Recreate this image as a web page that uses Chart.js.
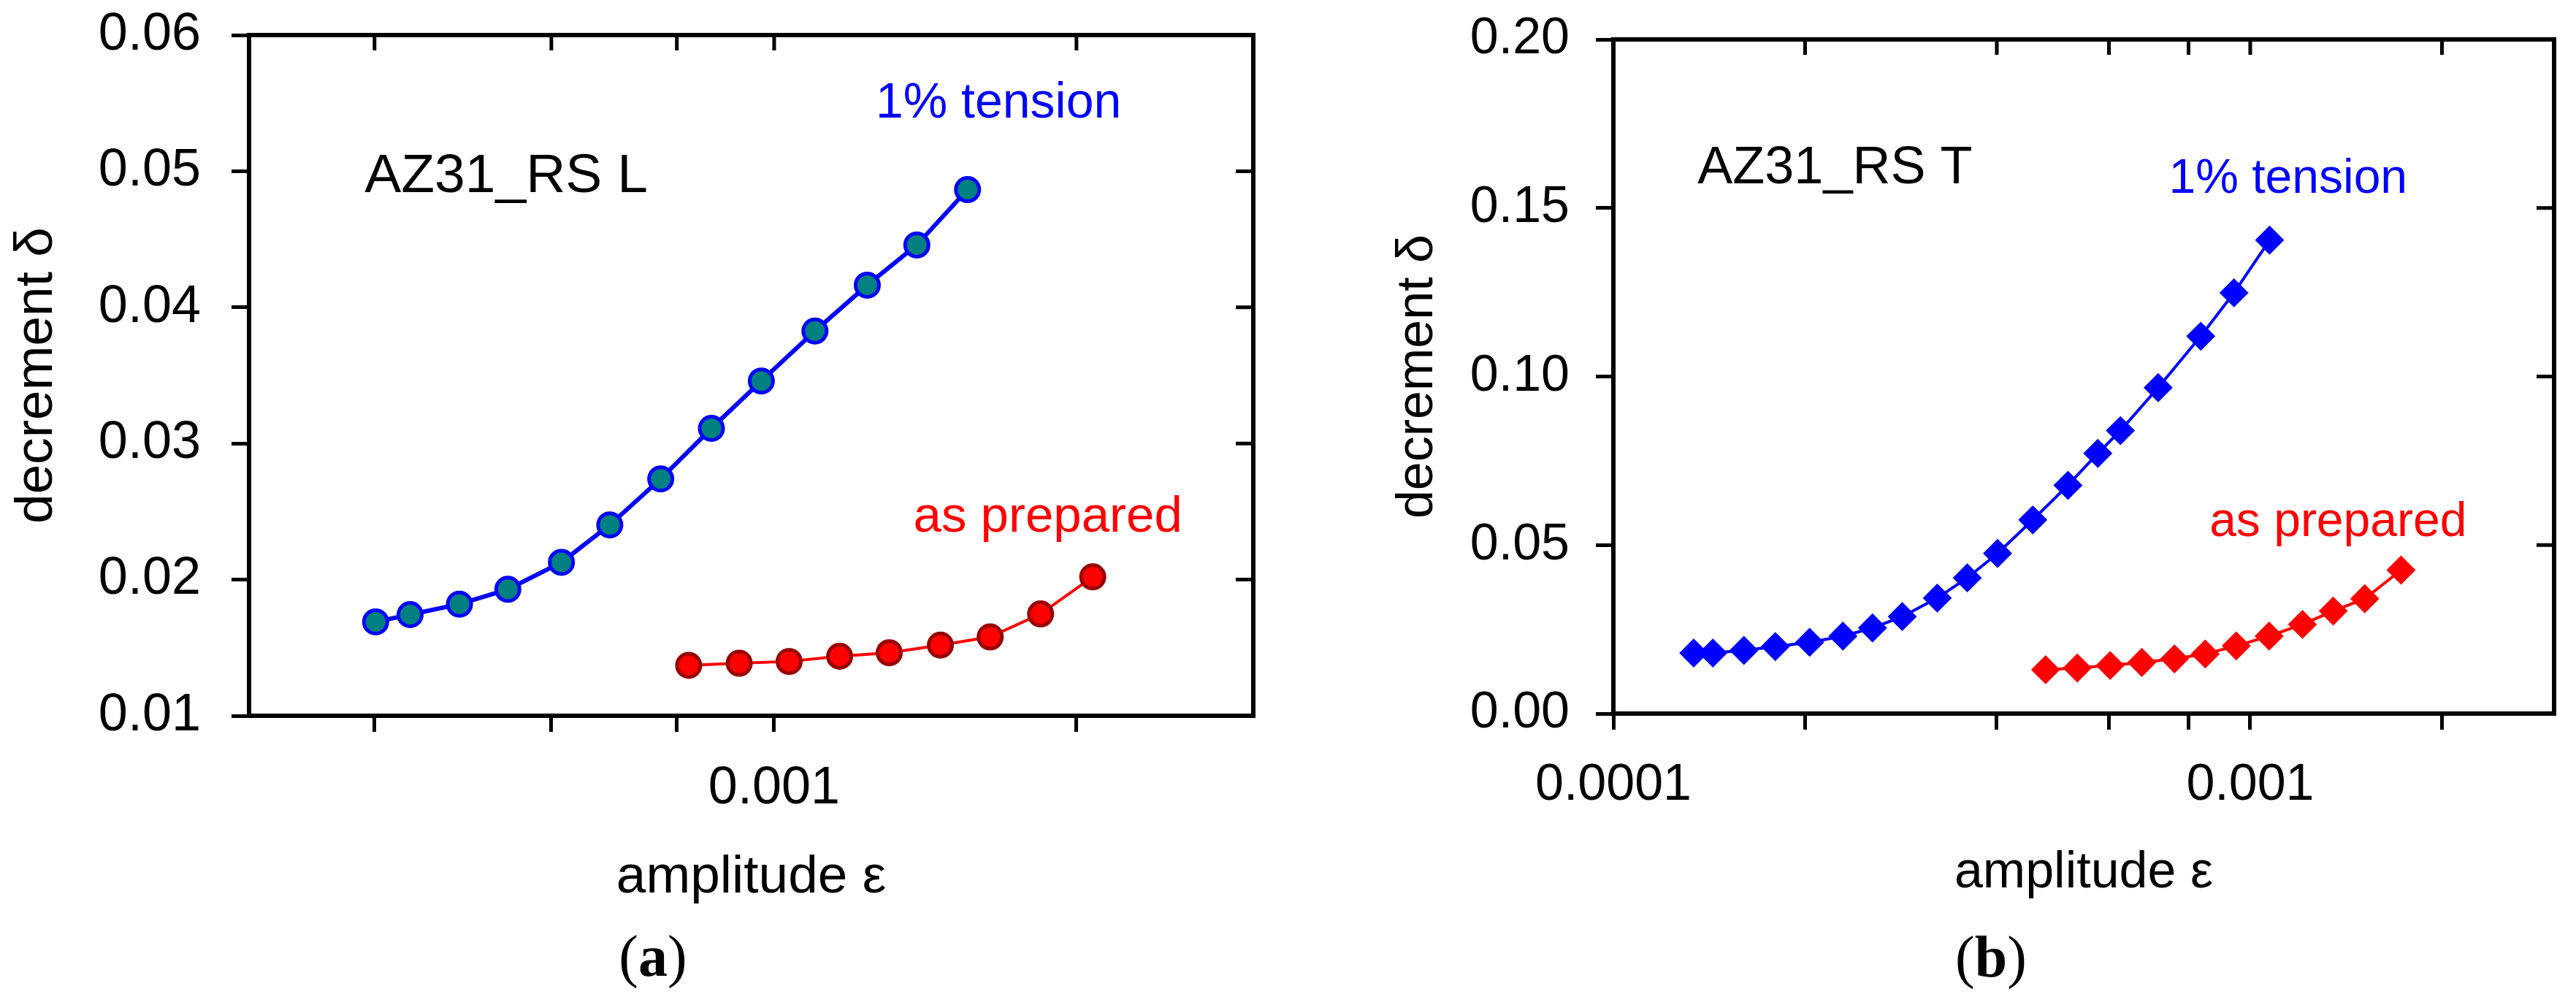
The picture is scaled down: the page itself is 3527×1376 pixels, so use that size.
<!DOCTYPE html>
<html>
<head>
<meta charset="utf-8">
<script src="https://cdn.jsdelivr.net/npm/chart.js@4.4.1/dist/chart.umd.min.js"></script>
<style>
  html, body { margin: 0; padding: 0; background: #fff; }
  #page { position: relative; width: 3527px; height: 1376px; overflow: hidden; background: #fff; }
  #page canvas { position: absolute; top: 0; }
  #chartA { left: 0; }
  #chartB { left: 1880px; }
  .caption { position: absolute; width: 200px; text-align: center; color: #000;
             font-family: 'Liberation Serif', 'Times New Roman', serif; font-size: 80px; line-height: 80px; }
</style>
</head>
<body>
<div id="page">
  <canvas id="chartA" width="1760" height="1376"></canvas>
  <canvas id="chartB" width="1647" height="1376"></canvas>
  <div class="caption" style="left:794px; top:1269px">(<b>a</b>)</div>
  <div class="caption" style="left:2626px; top:1270px">(<b>b</b>)</div>
</div>
<script>
// ---- data ----
const xTickValues = [0.0001, 0.0002, 0.0004, 0.0006, 0.0008, 0.001, 0.002];
const xLabelsA = ['0.001'];
const xLabelsB = ['0.0001', '0.001'];

// (a) AZ31_RS L
const ampA_tension = [0.000401, 0.000434, 0.000486, 0.000543, 0.000614, 0.000686, 0.000771,
                      0.000866, 0.000971, 0.001098, 0.001238, 0.001387, 0.001558];
const decA_tension = [0.0169, 0.01743, 0.0182, 0.01929, 0.02127, 0.02402, 0.0274,
                      0.03111, 0.03459, 0.03826, 0.04163, 0.04458, 0.04865];
const ampA_prepared = [0.000822, 0.000923, 0.001035, 0.001162, 0.001302, 0.001464, 0.001641, 0.001842, 0.002076];
const decA_prepared = [0.0137, 0.01386, 0.01399, 0.01437, 0.01463, 0.01519, 0.01579, 0.01748, 0.0202];

// (b) AZ31_RS T
const ampB_tension = [0.0001337, 0.0001433, 0.0001603, 0.0001796, 0.0002033, 0.0002293, 0.0002552,
                      0.0002842, 0.0003225, 0.0003595, 0.0004011, 0.0004556, 0.0005174, 0.0005763,
                      0.0006254, 0.0007168, 0.0008363, 0.000943, 0.0010725];
const decB_tension = [0.01796, 0.01796, 0.01874, 0.01988, 0.02114, 0.02298, 0.0254,
                      0.02878, 0.03427, 0.04026, 0.04751, 0.05746, 0.06772, 0.0772,
                      0.08395, 0.09669, 0.11196, 0.12482, 0.14046];
const ampB_prepared = [0.0004772, 0.0005351, 0.0006026, 0.0006757, 0.0007604, 0.0008498,
                       0.0009506, 0.0010708, 0.0012078, 0.0013498, 0.0015129, 0.0017251];
const decB_prepared = [0.01302, 0.01352, 0.01428, 0.01517, 0.01623, 0.01768,
                       0.02008, 0.02298, 0.02646, 0.03042, 0.03408, 0.04258];

const FONT = "'Liberation Sans', Arial, sans-serif";
Chart.defaults.font.family = FONT;
Chart.defaults.color = '#000';

const toPoints = (xs, ys) => xs.map((x, i) => ({ x: x, y: ys[i] }));

// closed frame (top/right) with inward mirror ticks
const frameTicks = {
  id: 'frameTicks',
  afterDraw(chart) {
    const { ctx, chartArea: a, scales: { x, y } } = chart;
    ctx.save();
    ctx.strokeStyle = '#000';
    ctx.lineWidth = 6;
    ctx.lineCap = 'square';
    ctx.lineJoin = 'miter';
    ctx.beginPath();
    ctx.moveTo(a.left, a.top);
    ctx.lineTo(a.right, a.top);
    ctx.lineTo(a.right, a.bottom);
    ctx.stroke();
    ctx.lineWidth = 5;
    ctx.lineCap = 'butt';
    ctx.beginPath();
    x.ticks.forEach(t => {
      const px = x.getPixelForValue(t.value);
      if (px - a.left < 4 || a.right - px < 4) return;
      ctx.moveTo(px, a.top);
      ctx.lineTo(px, a.top + 21);
    });
    y.ticks.forEach(t => {
      const py = y.getPixelForValue(t.value);
      if (py - a.top < 4 || a.bottom - py < 4) return;
      ctx.moveTo(a.right, py);
      ctx.lineTo(a.right - 24, py);
    });
    ctx.stroke();
    ctx.restore();
  }
};

function notesPlugin(items) {
  return {
    id: 'notes',
    afterDatasetsDraw(chart) {
      const { ctx, scales: { x, y } } = chart;
      ctx.save();
      ctx.textAlign = 'left';
      ctx.textBaseline = 'alphabetic';
      items.forEach(n => {
        ctx.font = n.size + 'px ' + FONT;
        ctx.fillStyle = n.color;
        ctx.fillText(n.text, x.getPixelForValue(n.x), y.getPixelForValue(n.y));
      });
      ctx.restore();
    }
  };
}

function makeChart(id, s) {
  const gridOpts = (len) => ({
    display: true, drawOnChartArea: false, drawTicks: true,
    tickLength: len, tickWidth: 5, tickColor: '#000', color: '#000', lineWidth: 5
  });
  return new Chart(document.getElementById(id), {
    type: 'scatter',
    data: { datasets: s.datasets },
    options: {
      responsive: false,
      animation: false,
      layout: { padding: s.padding },
      plugins: { legend: { display: false }, tooltip: { enabled: false } },
      scales: {
        x: {
          type: 'logarithmic',
          min: s.xMin,
          max: s.xMax,
          afterBuildTicks: sc => {
            sc.ticks = xTickValues
              .filter(v => v >= s.xMin * 0.999 && v <= s.xMax * 1.001)
              .map(v => ({ value: v }));
          },
          afterFit: sc => {
            sc.height = s.xHeight;
            sc.paddingLeft = 0;
            sc.paddingRight = 0;
          },
          border: { display: true, color: '#000', width: 6 },
          grid: gridOpts(22),
          ticks: {
            autoSkip: false, maxRotation: 0, padding: 35, color: '#000',
            font: { size: s.tickSize },
            callback: v => s.xLabels.includes(String(v)) ? String(v) : ''
          },
          title: {
            display: true, text: 'amplitude ε', color: '#000',
            font: { size: s.titleSize }, padding: { top: 0, bottom: s.xTitlePad }
          }
        },
        y: {
          min: s.yMin,
          max: s.yMax,
          afterFit: sc => {
            sc.width = s.yWidth;
            sc.paddingTop = 0;
            sc.paddingBottom = 0;
          },
          border: { display: true, color: '#000', width: 6 },
          grid: gridOpts(24),
          ticks: {
            stepSize: s.yStep, padding: s.yPad, color: '#000',
            font: { size: s.tickSize },
            callback: v => Number(v).toFixed(2)
          },
          title: {
            display: true, text: 'decrement δ', color: '#000',
            font: { size: s.titleSize }, padding: { top: s.yTitlePad, bottom: 0 }
          }
        }
      }
    },
    plugins: [frameTicks, notesPlugin(s.notes)]
  });
}

// (a)
makeChart('chartA', {
  padding: { left: 0, top: 48, right: 44, bottom: 0 },
  xMin: 0.0003, xMax: 0.003, xLabels: xLabelsA, xHeight: 396, xTitlePad: 130,
  yMin: 0.01, yMax: 0.06, yStep: 0.01, yWidth: 341, yPad: 42, yTitlePad: 7,
  tickSize: 72, titleSize: 73,
  datasets: [
    {
      data: toPoints(ampA_tension, decA_tension), showLine: true,
      borderColor: '#0000ff', borderWidth: 6, pointStyle: 'circle', pointRadius: 16,
      pointBackgroundColor: '#008080', pointBorderColor: '#0000ff', pointBorderWidth: 5
    },
    {
      data: toPoints(ampA_prepared, decA_prepared), showLine: true,
      borderColor: '#ff0000', borderWidth: 4, pointStyle: 'circle', pointRadius: 16,
      pointBackgroundColor: '#ff0000', pointBorderColor: '#990000', pointBorderWidth: 5
    }
  ],
  notes: [
    { text: 'AZ31_RS L', x: 0.000391, y: 0.04846, color: '#000', size: 75 },
    { text: '1% tension', x: 0.001262, y: 0.05393, color: '#0000ff', size: 68 },
    { text: 'as prepared', x: 0.001376, y: 0.0235, color: '#ff0000', size: 69 }
  ]
});

// (b)
makeChart('chartB', {
  padding: { left: 0, top: 54, right: 30, bottom: 0 },
  xMin: 0.0001, xMax: 0.003, xLabels: xLabelsB, xHeight: 399, xTitlePad: 138,
  yMin: 0, yMax: 0.2, yStep: 0.05, yWidth: 329, yPad: 36, yTitlePad: 20,
  tickSize: 70, titleSize: 70,
  datasets: [
    {
      data: toPoints(ampB_tension, decB_tension), showLine: true,
      borderColor: '#0000ff', borderWidth: 4, pointStyle: 'rectRot', pointRadius: 18.5,
      pointBackgroundColor: '#0000ff', pointBorderColor: '#0000ff', pointBorderWidth: 2
    },
    {
      data: toPoints(ampB_prepared, decB_prepared), showLine: true,
      borderColor: '#ff0000', borderWidth: 4, pointStyle: 'rectRot', pointRadius: 18.5,
      pointBackgroundColor: '#ff0000', pointBorderColor: '#ff0000', pointBorderWidth: 2
    }
  ],
  notes: [
    { text: 'AZ31_RS T', x: 0.0001356, y: 0.1574, color: '#000', size: 72 },
    { text: '1% tension', x: 0.000745, y: 0.15446, color: '#0000ff', size: 66 },
    { text: 'as prepared', x: 0.0008629, y: 0.05264, color: '#ff0000', size: 66 }
  ]
});
</script>
</body>
</html>
